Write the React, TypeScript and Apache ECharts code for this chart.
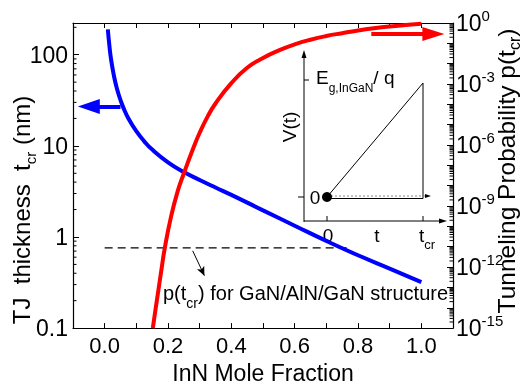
import React, { useEffect, useRef } from 'react';
import * as echarts from 'echarts';

// ---- data ----
const blueX = [0.01, 0.015, 0.02, 0.03, 0.04, 0.05, 0.06, 0.075, 0.1, 0.125, 0.15, 0.2, 0.25, 0.3, 0.35, 0.4, 0.5, 0.6, 0.7, 0.8, 0.9, 1.0];
const blueThickness = [190, 125, 90, 57, 41, 31.8, 25.8, 20, 14.5, 11.2, 9.1, 6.6, 5.15, 4.22, 3.49, 2.9, 1.96, 1.33, 0.905, 0.63, 0.45, 0.32];

const redX = [0.152, 0.16, 0.17, 0.18, 0.19, 0.21, 0.23, 0.25, 0.28, 0.3, 0.325, 0.35, 0.4, 0.45, 0.5, 0.55, 0.6, 0.65, 0.7, 0.75, 0.8, 0.85, 0.9, 0.95, 1.0];
const redProb = [1e-15, 7.1e-15, 7.9e-14, 8.9e-13, 8.9e-12, 3.2e-10, 5.0e-9, 4.0e-8, 7.1e-7, 4.0e-6, 2.5e-5, 1.1e-4, 1.1e-3, 6.3e-3, 0.019, 0.045, 0.089, 0.151, 0.229, 0.316, 0.427, 0.55, 0.676, 0.794, 0.912];

const dashX = [0.0, 0.78];
const dashProb = [8.7e-12, 8.7e-12];

const xTickLabels = ['0.0', '0.2', '0.4', '0.6', '0.8', '1.0'];
const leftTickLabels = ['0.1', '1', '10', '100'];
const rightTickExponents = [0, -3, -6, -9, -12, -15];

const xMin = -0.1;
const xMax = 1.1;
const leftMin = 0.1;
const leftMax = 223;
const rightMin = 1e-15;
const rightMax = 1;

const FONT = '"Liberation Sans", Arial, sans-serif';
const L = Math.log10;

export default function App() {
  const ref = useRef<HTMLDivElement>(null);
  useEffect(() => {
    const chart = echarts.init(ref.current!, null, { renderer: 'svg' });
    const axisLine = { show: true, onZero: false, lineStyle: { color: '#000', width: 1.2 } };
    const option: any = {
      animation: false,
      textStyle: { fontFamily: FONT },
      grid: { left: 73, right: 71, top: 23, bottom: 58 },
      xAxis: [
        {
          type: 'value', min: xMin, max: xMax, interval: 0.1, position: 'bottom',
          axisLine, splitLine: { show: false },
          axisTick: { show: true, inside: true, length: 5, lineStyle: { color: '#000', width: 1 } },
          axisLabel: {
            fontSize: 22, color: '#000', margin: 6, fontFamily: FONT,
            formatter: (v: number) => {
              const k = Math.round(v * 10);
              return k >= 0 && k <= 10 && k % 2 === 0 ? xTickLabels[k / 2] : '';
            },
          },
          name: 'InN Mole Fraction', nameLocation: 'middle', nameGap: 26,
          nameTextStyle: { fontSize: 23, color: '#000', fontFamily: FONT },
        },
        {
          type: 'value', min: xMin, max: xMax, interval: 0.1, position: 'top',
          axisLine, splitLine: { show: false },
          axisTick: { show: true, inside: true, length: 5, lineStyle: { color: '#000', width: 1 } },
          axisLabel: { show: false },
        },
      ],
      yAxis: [
        {
          type: 'value', min: L(leftMin), max: L(leftMax), interval: 1, position: 'left',
          axisLine, splitLine: { show: false },
          axisTick: { show: true, inside: true, length: 6, lineStyle: { color: '#000', width: 1 } },
          axisLabel: {
            fontSize: 23, color: '#000', margin: 5, fontFamily: FONT,
            formatter: (v: number) => {
              const k = Math.round(v);
              return Math.abs(v - k) < 1e-6 && k >= -1 && k <= 2 ? leftTickLabels[k + 1] : '';
            },
          },
        },
        {
          type: 'value', min: L(rightMin), max: L(rightMax), interval: 1, position: 'right',
          axisLine, splitLine: { show: false },
          axisTick: { show: true, inside: true, length: 6, lineStyle: { color: '#000', width: 1 } },
          axisLabel: {
            color: '#000', margin: 3, fontFamily: FONT,
            formatter: (v: number) => {
              const k = Math.round(v);
              return rightTickExponents.indexOf(k) >= 0 ? `{b|10}{p|${k}}` : '';
            },
            rich: {
              b: { fontSize: 23, lineHeight: 30, color: '#000', fontFamily: FONT },
              p: { fontSize: 15, lineHeight: 15, verticalAlign: 'top', color: '#000', fontFamily: FONT },
            },
          },
        },
      ],
      series: [
        {
          type: 'line', xAxisIndex: 0, yAxisIndex: 0, showSymbol: false, symbol: 'none',
          smooth: true,
          lineStyle: { color: '#0000ff', width: 4 },
          data: blueX.map((x, i) => [x, L(blueThickness[i])]),
          markLine: {
            silent: true, symbol: ['none', 'triangle'], symbolSize: [15, 22],
            label: { show: false }, lineStyle: { color: '#0000ff', width: 4, type: 'solid' },
            data: [[{ coord: [0.05, L(27)] }, { coord: [-0.05, L(27)] }]],
          },
          z: 3,
        },
        {
          type: 'line', xAxisIndex: 0, yAxisIndex: 1, showSymbol: false, symbol: 'none',
          smooth: true,
          lineStyle: { color: '#ff0000', width: 4 },
          data: redX.map((x, i) => [x, L(redProb[i])]),
          markLine: {
            silent: true, symbol: ['none', 'triangle'], symbolSize: [14, 22],
            label: { show: false }, lineStyle: { color: '#ff0000', width: 4, type: 'solid' },
            data: [[{ coord: [0.842, L(0.29)] }, { coord: [1.038, L(0.29)] }]],
          },
          z: 3,
        },
        {
          type: 'line', xAxisIndex: 0, yAxisIndex: 1, showSymbol: false, symbol: 'none',
          lineStyle: { color: '#000', width: 1.2, type: [8, 5] },
          data: dashX.map((x, i) => [x, L(dashProb[i])]),
          markLine: {
            silent: true, symbol: ['none', 'arrow'], symbolSize: [6, 9],
            label: { show: false }, lineStyle: { color: '#000', width: 1, type: 'solid' },
            data: [[{ coord: [0.278, L(6.3e-12)] }, { coord: [0.315, L(3.8e-13)] }]],
          },
          z: 2,
        },
      ],
    };
    chart.setOption(option);

    // minor (log) ticks, positioned through the axes
    const minor: any[] = [];
    const xl = chart.convertToPixel({ xAxisIndex: 0 }, xMin) as number;
    const xr = chart.convertToPixel({ xAxisIndex: 0 }, xMax) as number;
    for (let d = -1; d <= 2; d++) {
      for (let k = 2; k <= 9; k++) {
        const v = d + L(k);
        if (v >= L(leftMax)) continue;
        const y = chart.convertToPixel({ yAxisIndex: 0 }, v) as number;
        minor.push({ type: 'line', silent: true, shape: { x1: xl, y1: y, x2: xl + 3.5, y2: y }, style: { stroke: '#000', lineWidth: 1 } });
      }
    }
    for (let d = -15; d <= -1; d++) {
      for (let k = 2; k <= 9; k++) {
        const y = chart.convertToPixel({ yAxisIndex: 1 }, d + L(k)) as number;
        minor.push({ type: 'line', silent: true, shape: { x1: xr - 3.5, y1: y, x2: xr, y2: y }, style: { stroke: '#000', lineWidth: 1 } });
      }
    }

    const ln = (x1: number, y1: number, x2: number, y2: number, extra: any = {}) => ({
      type: 'line', silent: true, shape: { x1, y1, x2, y2 }, style: { stroke: '#000', lineWidth: 1, ...extra },
    });
    const txt = (x: number, y: number, text: string, extra: any = {}, rot = 0) => ({
      type: 'text', silent: true, x, y, rotation: rot,
      style: { text, fontFamily: FONT, fontSize: 19, fill: '#000', align: 'center', verticalAlign: 'middle', ...extra },
    });
    const subRich = (size: number) => ({ s: { fontSize: size, lineHeight: size, verticalAlign: 'bottom', fontFamily: FONT, fill: '#000' } });

    const inset: any[] = [
      ln(304, 222, 304, 56),
      { type: 'polygon', silent: true, shape: { points: [[304, 50], [301.5, 58], [306.5, 58]] }, style: { fill: '#000' } },
      ln(304, 221, 440, 221),
      { type: 'polygon', silent: true, shape: { points: [[447, 221], [439, 218.5], [439, 223.5]] }, style: { fill: '#000' } },
      ln(304, 80, 309, 80),
      ln(298, 197, 304, 197),
      ln(327, 221, 327, 216),
      ln(423, 221, 423, 216),
      ln(327, 197, 423, 83),
      ln(423, 83, 423, 198.5),
      ln(327, 198.5, 423, 198.5),
      ln(327, 196, 426, 196, { stroke: '#888', lineDash: [2, 2] }),
      { type: 'polygon', silent: true, shape: { points: [[431, 196], [425, 194], [425, 198]] }, style: { fill: '#000' } },
      { type: 'circle', silent: true, shape: { cx: 327, cy: 197, r: 5 }, style: { fill: '#000' } },
      txt(315, 197, '0'),
      txt(316, 77, 'E{s|g,InGaN}/ q', { align: 'left', lineHeight: 34, rich: subRich(12) }),
      txt(289, 127, 'V(t)', {}, Math.PI / 2),
      txt(328, 235, '0'),
      txt(377, 235, 't'),
      txt(419, 235, 't{s|cr}', { align: 'left', lineHeight: 32, rich: subRich(13) }),
      txt(163, 292.5, 'p(t{s|cr}) for GaN/AlN/GaN structure', { align: 'left', fontSize: 20, lineHeight: 34, rich: subRich(14) }),
      txt(21, 210, 'TJ  thickness  t{s|cr} (nm)', { fontSize: 24, lineHeight: 34, rich: subRich(15) }, Math.PI / 2),
      txt(506, 171, 'Tunneling Probability p(t{s|cr})', { fontSize: 24.5, lineHeight: 32, rich: subRich(16) }, Math.PI / 2),
    ];

    chart.setOption({ graphic: [...minor, ...inset] });
    return () => chart.dispose();
  }, []);
  return <div ref={ref} style={{ position: 'fixed', left: 0, top: 0, width: 524, height: 389 }} />;
}
